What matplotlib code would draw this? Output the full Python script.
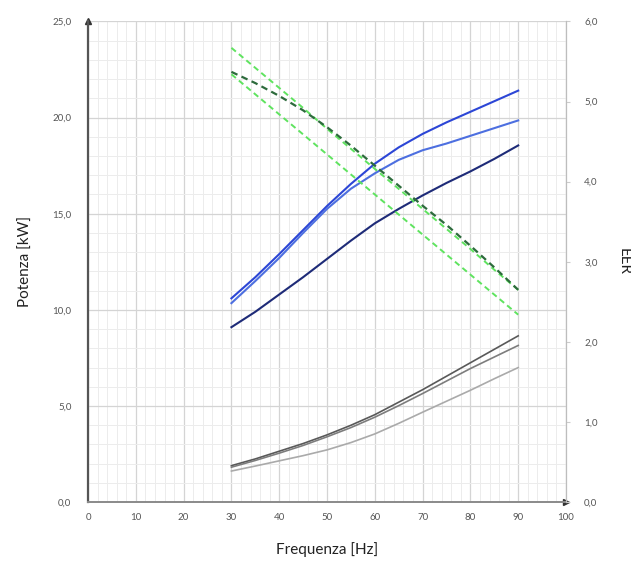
import matplotlib.pyplot as plt
from matplotlib.ticker import MultipleLocator, FuncFormatter

plt.rcParams['font.family'] = ['Lato', 'DejaVu Sans']

freq = [30, 35, 40, 45, 50, 55, 60, 65, 70, 75, 80, 85, 90]

# potenza frigorifera [kW]
pot_a = [10.6, 11.7, 12.9, 14.15, 15.4, 16.55, 17.6, 18.45, 19.15, 19.75, 20.3, 20.85, 21.4]
pot_b = [10.35, 11.5, 12.7, 14.0, 15.25, 16.3, 17.1, 17.8, 18.3, 18.65, 19.05, 19.45, 19.85]
pot_c = [9.1, 9.9, 10.8, 11.7, 12.65, 13.6, 14.5, 15.25, 15.95, 16.6, 17.2, 17.85, 18.55]

# potenza assorbita [kW]
ass_a = [1.9, 2.25, 2.65, 3.05, 3.5, 4.0, 4.55, 5.2, 5.85, 6.55, 7.25, 7.95, 8.65]
ass_b = [1.82, 2.17, 2.55, 2.95, 3.4, 3.88, 4.42, 5.02, 5.65, 6.3, 6.95, 7.55, 8.15]
ass_c = [1.62, 1.88, 2.15, 2.42, 2.72, 3.1, 3.55, 4.1, 4.68, 5.25, 5.82, 6.42, 7.0]

# EER
eer_a = [5.67, 5.42, 5.17, 4.92, 4.66, 4.41, 4.16, 3.91, 3.66, 3.41, 3.16, 2.9, 2.65]
eer_b = [5.37, 5.23, 5.07, 4.89, 4.68, 4.45, 4.2, 3.95, 3.7, 3.46, 3.2, 2.93, 2.65]
eer_c = [5.34, 5.09, 4.84, 4.59, 4.34, 4.09, 3.84, 3.59, 3.34, 3.09, 2.84, 2.59, 2.34]

fig, ax = plt.subplots(figsize=(6.31, 5.63), dpi=100)
fig.subplots_adjust(left=0.1395, right=0.897, bottom=0.108, top=0.962)

ax.set_xlim(0, 100)
ax.set_ylim(0, 25)
ax.xaxis.set_major_locator(MultipleLocator(10))
ax.xaxis.set_minor_locator(MultipleLocator(2))
ax.yaxis.set_major_locator(MultipleLocator(5))
ax.yaxis.set_minor_locator(MultipleLocator(1))
ax.grid(which='major', color='#d4d4d4', lw=0.9)
ax.grid(which='minor', color='#ececec', lw=0.7)
ax.set_axisbelow(True)

comma = FuncFormatter(lambda v, p: f"{v:.1f}".replace('.', ','))
ax.yaxis.set_major_formatter(comma)
ax.tick_params(which='both', length=0, labelsize=7, colors='#555555', pad=8)
ax.tick_params(axis='y', pad=12)

for s in ['top', 'right']:
    ax.spines[s].set_visible(False)
ax.spines['left'].set_color('#555555')
ax.spines['left'].set_linewidth(1.6)
ax.spines['bottom'].set_color('#8a8a8a')
ax.spines['bottom'].set_linewidth(1.4)

# frecce sugli assi
ax.plot(0, 1, '^', color='#333333', ms=5, transform=ax.transAxes, clip_on=False)
ax.plot(1, 0, '>', color='#333333', ms=5, transform=ax.transAxes, clip_on=False)

ax.plot(freq, pot_a, color='#2c46d6', lw=1.5)
ax.plot(freq, pot_b, color='#4d6fe0', lw=1.5)
ax.plot(freq, pot_c, color='#1e2b78', lw=1.5)

ax.plot(freq, ass_a, color='#595959', lw=1.2)
ax.plot(freq, ass_b, color='#7d7d7d', lw=1.2)
ax.plot(freq, ass_c, color='#aaaaaa', lw=1.2)

ax2 = ax.twinx()
ax2.set_ylim(0, 6)
ax2.yaxis.set_major_locator(MultipleLocator(1))
ax2.yaxis.set_major_formatter(comma)
ax2.tick_params(length=3, labelsize=7, colors='#555555', pad=10, color='#cccccc')
for s in ['top', 'left', 'bottom']:
    ax2.spines[s].set_visible(False)
ax2.spines['right'].set_color('#bdbdbd')
ax2.spines['right'].set_linewidth(0.9)

ax2.plot(freq, eer_a, color='#5fe35f', lw=1.4, ls=(0, (3, 2)))
ax2.plot(freq, eer_b, color='#2d6b3c', lw=1.6, ls=(0, (3, 2)))
ax2.plot(freq, eer_c, color='#5fe35f', lw=1.4, ls=(0, (3, 2)))

ax.set_xlabel('Frequenza [Hz]', fontsize=11, labelpad=14, color='#222222')
ax.set_ylabel('Potenza [kW]', fontsize=11, labelpad=14, color='#222222')
ax2.set_ylabel('EER', fontsize=11, rotation=-90, labelpad=24, color='#222222')

fig.savefig('out.png', dpi=100, facecolor='white')
